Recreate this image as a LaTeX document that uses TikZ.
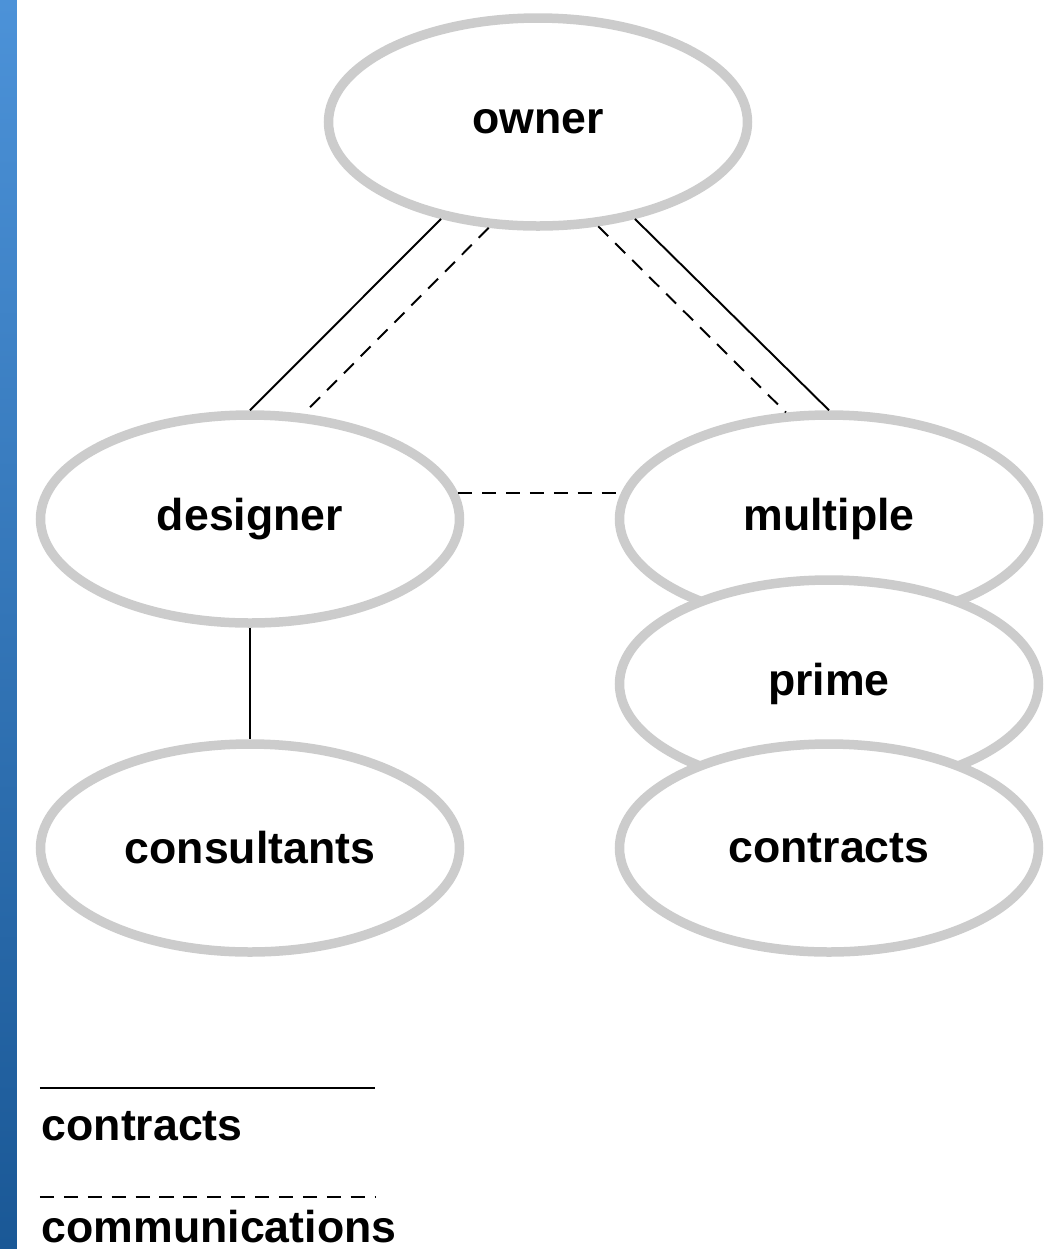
\documentclass[tikz,border=0pt]{standalone}
\usepackage{fontspec}
\setmainfont{Liberation Sans}
\usetikzlibrary{shapes}

\begin{document}
\begin{tikzpicture}[x=1cm, y=1cm]
\tikzstyle{party}=[ellipse, draw=black!20, line width=0.095cm, fill=white,
                   minimum width=4.19cm, minimum height=2.08cm, inner sep=0pt,
                   font=\fontsize{12.7}{15}\selectfont\bfseries]
\tikzstyle{ctr}=[black, line width=0.55pt]
\tikzstyle{com}=[black, line width=0.55pt, dash pattern=on 4pt off 2.8pt]
\tikzstyle{key}=[anchor=base west, inner sep=0pt, font=\fontsize{12.7}{15}\selectfont\bfseries]
\useasboundingbox (0,0) rectangle (10.59,-12.49);
\shade[top color={rgb,255:red,76;green,146;blue,216}, bottom color={rgb,255:red,26;green,88;blue,150}]
  (0,0) rectangle (0.17,-12.49);
\node[party] (owner) at (5.38,-1.22) {owner};
\node[party] (designer) at (2.50,-5.19) {designer};
\node[party] (consultants) at (2.50,-8.48) {consultants};
\node[party] (multiple) at (8.29,-5.19) {multiple};
\node[party] (prime) at (8.29,-6.84) {prime};
\node[party] (contracts) at (8.29,-8.48) {contracts};
\foreach \i/\j in {owner.225/designer.north, owner.315/multiple.north, designer.south/consultants.north}{\draw[ctr] (\i) -- (\j);}
\foreach \i/\j in {owner.245/designer.63, owner.300/multiple.112, designer.7/multiple.173}{\draw[com] (\i) -- (\j);}
% legend
\coordinate (c1) at (0.40,-10.88);
\coordinate (c2) at (3.75,-10.88);
\coordinate (m1) at (0.40,-11.97);
\coordinate (m2) at (3.75,-11.97);
\draw[ctr] (c1) -- (c2);
\draw[com] (m1) -- (m2);
\node[key] (lc) at (0.41,-11.40) {contracts};
\node[key] (lm) at (0.41,-12.42) {communications};
\end{tikzpicture}
\end{document}
